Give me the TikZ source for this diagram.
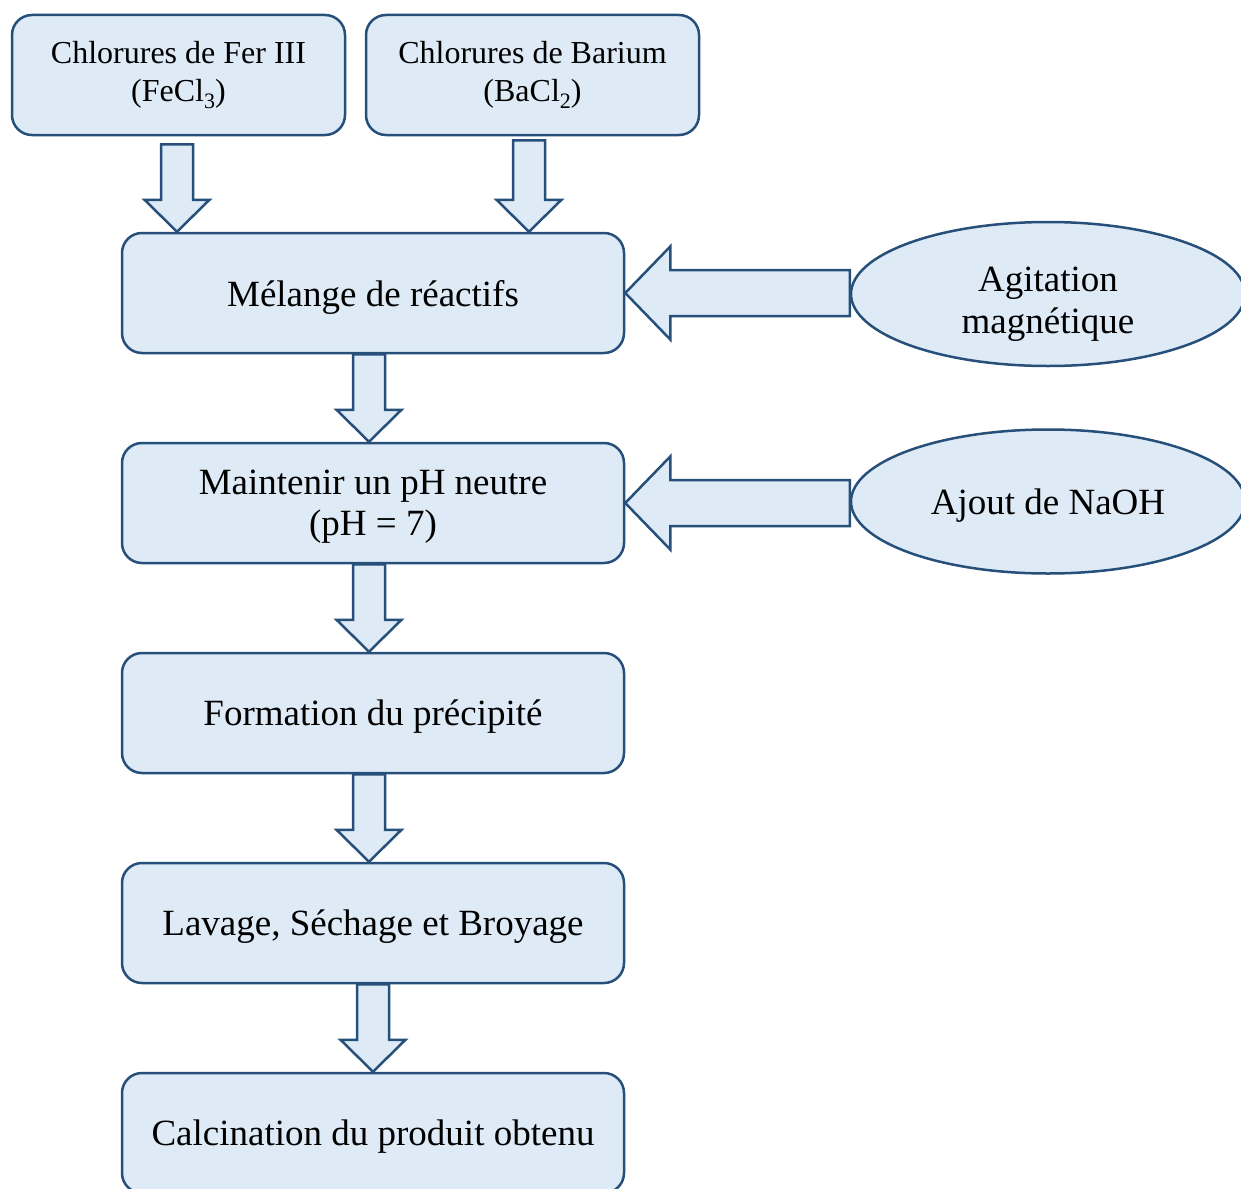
\documentclass[tikz,border=0pt]{standalone}
\usepackage{fontspec}
\setmainfont{Liberation Serif}
\usetikzlibrary{calc,positioning,shapes.geometric}
\definecolor{schemaFond}{RGB}{222,235,247}
\definecolor{schemaTrait}{RGB}{38,79,122}

\tikzset{
 boite/.style={draw=schemaTrait,fill=schemaFond,line width=1.25pt,
  rounded corners=10pt,minimum height=60pt,align=center},
 etape/.style={boite,minimum width=251pt,text depth=0pt,
  font=\fontsize{18.5}{20.5}\selectfont},
 source/.style={boite,minimum width=166.5pt,
  font=\fontsize{16}{19}\selectfont},
 apport/.style={ellipse,draw=schemaTrait,fill=schemaFond,line width=1.25pt,
  minimum width=197pt,minimum height=72pt,align=center,text depth=0pt,
  font=\fontsize{18.5}{21}\selectfont},
 fleche/.style={draw=schemaTrait,fill=schemaFond,line width=1.25pt,
  line join=miter}
}
\newcommand{\indice}[1]{\raisebox{-0.45ex}{\fontsize{11}{11}\selectfont #1}}

% fleche creuse vers le bas : {depart}{arrivee}{decalage x}{ecart}
\newcommand{\flecheBas}[4]{%
 \draw[fleche] let \p1=(#1.south), \p2=(#2.north) in
  (\x1+#3-8pt,\y1-#4) -- (\x1+#3+8pt,\y1-#4) -- (\x1+#3+8pt,\y2+16pt)
  -- (\x1+#3+16.25pt,\y2+16pt) -- (\x1+#3,\y2) -- (\x1+#3-16.25pt,\y2+16pt)
  -- (\x1+#3-8pt,\y2+16pt) -- cycle;}
% fleche creuse vers la gauche : {ellipse}{etape}
\newcommand{\flecheGauche}[2]{%
 \draw[fleche] let \p1=(#1.west), \p2=(#2.east) in
  (\x1,\y2+11.5pt) -- (\x2+22.5pt,\y2+11.5pt) -- (\x2+22.5pt,\y2+23.25pt)
  -- (\x2,\y2) -- (\x2+22.5pt,\y2-23.25pt) -- (\x2+22.5pt,\y2-11.5pt)
  -- (\x1,\y2-11.5pt) -- cycle;}

\begin{document}
\begin{tikzpicture}[x=0.5pt,y=-0.5pt]
 \useasboundingbox (0,0) rectangle (1241,1188);
 \clip (0,0) rectangle (1241,1188);

 \node[source] (fer) at (178.5,75) {Chlorures de Fer III\\(FeCl\indice{3})};
 \node[source] (barium) at (532.5,75) {Chlorures de Barium\\(BaCl\indice{2})};

 \node[etape] (melange) at (373,293) {Mélange de réactifs};
 \node[etape] (ph) at (373,503) {Maintenir un pH neutre\\(pH = 7)};
 \node[etape] (precipite) at (373,713) {Formation du précipité};
 \node[etape] (lavage) at (373,923) {Lavage, Séchage et Broyage};
 \node[etape] (calcination) at (373,1133) {Calcination du produit obtenu};

 \node[apport] (agitation) at (1048,294) {\rule{0pt}{18pt}Agitation\\magnétique};
 \node[apport] (naoh) at (1048,501.5) {Ajout de NaOH};

 \flecheBas{fer}{melange}{-0.75pt}{4pt}
 \flecheBas{barium}{melange}{-1.75pt}{2pt}
 \flecheBas{melange}{ph}{-2pt}{0pt}
 \flecheBas{ph}{precipite}{-2pt}{0pt}
 \flecheBas{precipite}{lavage}{-2pt}{0pt}
 \flecheBas{lavage}{calcination}{0pt}{0pt}

 \flecheGauche{agitation}{melange}
 \flecheGauche{naoh}{ph}
\end{tikzpicture}
\end{document}
